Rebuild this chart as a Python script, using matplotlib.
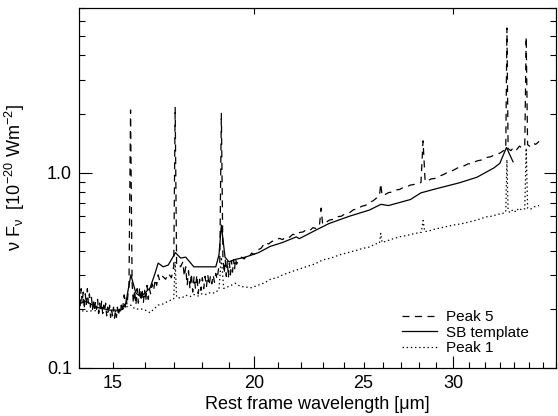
import matplotlib
matplotlib.use("Agg")
import matplotlib.pyplot as plt
from matplotlib.ticker import FixedLocator, FuncFormatter, NullFormatter, NullLocator

plt.rcParams['font.family'] = ['Liberation Sans', 'DejaVu Sans']
plt.rcParams['mathtext.default'] = 'regular'
plt.rcParams['lines.scale_dashes'] = False

# Peak 5 spectrum (rest wavelength in um, nu F_nu)
peak5_wl = [14.00, 14.03, 14.06, 14.09, 14.12, 14.15, 14.18, 14.21, 14.24, 14.27,
            14.30, 14.33, 14.36, 14.39, 14.42, 14.45, 14.48, 14.51, 14.54, 14.57,
            14.60, 14.63, 14.66, 14.69, 14.72, 14.75, 14.78, 14.81, 14.84, 14.87,
            14.90, 14.93, 14.96, 14.99, 15.02, 15.05, 15.08, 15.11, 15.14, 15.17,
            15.20, 15.23, 15.26, 15.29, 15.32, 15.35, 15.38, 15.41, 15.44, 15.47,
            15.50, 15.55, 15.60, 15.64, 15.68, 15.72, 15.76, 15.80, 15.84, 15.88,
            15.92, 15.96, 16.00, 16.04, 16.08, 16.12, 16.16, 16.20, 16.25, 16.30,
            16.35, 16.40, 16.45, 16.50, 16.60, 16.70, 16.80, 16.90, 16.98, 17.03,
            17.08, 17.15, 17.22, 17.30, 17.35, 17.40, 17.45, 17.50, 17.55, 17.60,
            17.65, 17.70, 17.75, 17.80, 17.85, 17.90, 17.95, 18.00, 18.05, 18.10,
            18.15, 18.20, 18.25, 18.30, 18.35, 18.40, 18.45, 18.50, 18.55, 18.60,
            18.65, 18.71, 18.77, 18.82, 18.86, 18.90, 18.94, 18.98, 19.02, 19.06,
            19.10, 19.14, 19.18, 19.22, 19.26, 19.30, 19.40, 19.50, 19.60, 19.70,
            19.80, 19.90, 20.00, 20.15, 20.30, 20.45, 20.60, 20.75, 20.90, 21.05,
            21.20, 21.35, 21.50, 21.65, 21.80, 21.95, 22.10, 22.25, 22.40, 22.55,
            22.70, 22.85, 22.93, 23.00, 23.15, 23.30, 23.50, 23.70, 23.90, 24.10,
            24.30, 24.50, 24.70, 24.90, 25.10, 25.30, 25.50, 25.70, 25.82, 25.89,
            25.96, 26.10, 26.30, 26.50, 26.70, 26.90, 27.10, 27.30, 27.50, 27.70,
            27.90, 28.10, 28.22, 28.34, 28.50, 28.70, 28.90, 29.10, 29.40, 29.70,
            30.00, 30.30, 30.60, 30.90, 31.20, 31.50, 31.80, 32.10, 32.40, 32.70,
            33.00, 33.25, 33.40, 33.48, 33.56, 33.75, 33.95, 34.15, 34.35, 34.55,
            34.72, 34.82, 34.92, 35.10, 35.30, 35.50, 35.75]
peak5_flux = [0.235, 0.205, 0.255, 0.215, 0.245, 0.200, 0.240, 0.210, 0.255, 0.215,
              0.240, 0.205, 0.230, 0.200, 0.225, 0.195, 0.220, 0.200, 0.225, 0.190,
              0.215, 0.195, 0.220, 0.190, 0.210, 0.195, 0.215, 0.185, 0.205, 0.190,
              0.210, 0.182, 0.200, 0.185, 0.205, 0.180, 0.198, 0.182, 0.205, 0.185,
              0.200, 0.190, 0.210, 0.195, 0.215, 0.237, 0.205, 0.230, 0.210, 0.240,
              0.260, 2.100, 0.270, 0.215, 0.250, 0.210, 0.255, 0.215, 0.260, 0.220,
              0.255, 0.215, 0.250, 0.220, 0.265, 0.225, 0.255, 0.240, 0.270, 0.250,
              0.285, 0.265, 0.300, 0.280, 0.295, 0.285, 0.305, 0.290, 0.330, 2.180,
              0.340, 0.345, 0.330, 0.350, 0.295, 0.330, 0.265, 0.315, 0.255, 0.305,
              0.245, 0.295, 0.255, 0.300, 0.240, 0.285, 0.250, 0.290, 0.255, 0.295,
              0.260, 0.300, 0.265, 0.295, 0.270, 0.300, 0.275, 0.305, 0.285, 0.320,
              0.340, 2.030, 0.370, 0.305, 0.360, 0.295, 0.355, 0.290, 0.345, 0.300,
              0.355, 0.310, 0.360, 0.320, 0.365, 0.340, 0.360, 0.370, 0.362, 0.376,
              0.370, 0.388, 0.382, 0.402, 0.412, 0.440, 0.432, 0.446, 0.448, 0.462,
              0.455, 0.472, 0.468, 0.485, 0.478, 0.495, 0.498, 0.512, 0.506, 0.524,
              0.518, 0.538, 0.660, 0.545, 0.556, 0.572, 0.578, 0.596, 0.600, 0.620,
              0.626, 0.648, 0.652, 0.674, 0.682, 0.706, 0.720, 0.748, 0.760, 0.880,
              0.765, 0.772, 0.792, 0.798, 0.818, 0.822, 0.842, 0.848, 0.866, 0.872,
              0.888, 0.892, 1.460, 0.905, 0.912, 0.932, 0.936, 0.958, 0.978, 1.010,
              1.030, 1.062, 1.078, 1.110, 1.122, 1.152, 1.165, 1.198, 1.210, 1.245,
              1.262, 1.300, 1.310, 5.530, 1.330, 1.300, 1.355, 1.315, 1.372, 1.335,
              1.380, 4.980, 1.395, 1.365, 1.420, 1.400, 1.450]

# Starburst template
sb_wl = [13.97, 14.20, 14.50, 14.90, 15.25, 15.40, 15.56, 15.72, 15.88, 16.18,
         16.35, 16.45, 16.62, 16.79, 17.04, 17.22, 17.40, 17.69, 17.98, 18.50,
         18.62, 18.71, 18.85, 19.00, 19.25, 19.65, 20.18, 20.67, 21.20, 21.80,
         21.93, 22.70, 23.30, 24.30, 25.30, 25.90, 26.30, 27.50, 28.10, 29.00,
         30.40, 31.50, 32.60, 33.00, 33.45, 33.65, 33.90]
sb_flux = [0.212, 0.220, 0.205, 0.198, 0.198, 0.215, 0.300, 0.242, 0.232, 0.257,
           0.307, 0.345, 0.330, 0.337, 0.390, 0.366, 0.370, 0.330, 0.330, 0.330,
           0.380, 0.540, 0.370, 0.350, 0.360, 0.370, 0.390, 0.420, 0.440, 0.470,
           0.460, 0.510, 0.550, 0.600, 0.645, 0.690, 0.680, 0.730, 0.790, 0.830,
           0.890, 0.950, 1.060, 1.120, 1.350, 1.250, 1.140]

# Peak 1 spectrum
peak1_wl = [13.97, 14.20, 14.45, 14.70, 14.94, 15.20, 15.40, 15.56, 15.70, 15.88,
            16.05, 16.18, 16.30, 16.45, 16.62, 16.79, 16.98, 17.03, 17.08, 17.25,
            17.40, 17.55, 17.69, 17.85, 17.98, 18.15, 18.30, 18.45, 18.62, 18.71,
            18.80, 19.00, 19.25, 19.45, 19.65, 19.90, 20.18, 20.45, 20.70, 20.95,
            21.20, 21.60, 21.95, 22.30, 22.65, 23.00, 23.40, 23.80, 24.20, 24.60,
            24.95, 25.30, 25.60, 25.82, 25.89, 25.96, 26.10, 26.50, 26.90, 27.30,
            27.80, 28.12, 28.22, 28.32, 28.60, 28.90, 29.40, 30.00, 30.50, 31.00,
            31.50, 32.10, 32.50, 32.80, 33.20, 33.40, 33.48, 33.56, 33.70, 33.90,
            34.10, 34.30, 34.50, 34.72, 34.82, 34.92, 35.10, 35.40, 35.75]
peak1_flux = [0.198, 0.195, 0.197, 0.192, 0.194, 0.196, 0.205, 0.210, 0.200, 0.201,
              0.197, 0.192, 0.200, 0.210, 0.213, 0.220, 0.226, 0.350, 0.230, 0.228,
              0.236, 0.232, 0.238, 0.234, 0.240, 0.238, 0.244, 0.242, 0.252, 0.370,
              0.256, 0.262, 0.272, 0.262, 0.260, 0.258, 0.266, 0.274, 0.286, 0.290,
              0.300, 0.312, 0.322, 0.332, 0.342, 0.358, 0.366, 0.380, 0.390, 0.400,
              0.410, 0.417, 0.432, 0.436, 0.490, 0.440, 0.444, 0.458, 0.470, 0.478,
              0.490, 0.496, 0.570, 0.500, 0.505, 0.515, 0.526, 0.540, 0.548, 0.560,
              0.574, 0.595, 0.600, 0.612, 0.620, 0.630, 1.170, 0.640, 0.625, 0.650,
              0.630, 0.660, 0.645, 0.655, 1.340, 0.660, 0.650, 0.670, 0.680]

fig = plt.figure(figsize=(5.58, 4.16), dpi=100)
ax = fig.add_axes([0.1416, 0.1154, 0.8548, 0.8654])

ax.plot(peak5_wl, peak5_flux, color='black', lw=0.9, dashes=(5, 4), label='Peak 5')
ax.plot(sb_wl, sb_flux, color='black', lw=0.9, label='SB template')
ax.plot(peak1_wl, peak1_flux, color='black', lw=0.9, dashes=(1, 2), label='Peak 1')

ax.set_xscale('log')
ax.set_yscale('log')
ax.set_xlim(14, 37)
ax.set_ylim(0.1, 7)

# x ticks: long at 20, 30; short every micron, labelled at 15 and 25
ax.xaxis.set_major_locator(FixedLocator([20, 30]))
ax.xaxis.set_major_formatter(FuncFormatter(lambda v, p: '%d' % round(v)))
minor_x = [v for v in range(14, 38) if v not in (20, 30)]
ax.xaxis.set_minor_locator(FixedLocator(minor_x))
ax.xaxis.set_minor_formatter(FuncFormatter(
    lambda v, p: '%d' % round(v) if round(v) in (15, 25) else ''))

ax.yaxis.set_major_locator(FixedLocator([0.1, 1.0]))
ax.yaxis.set_major_formatter(FuncFormatter(lambda v, p: '%.1f' % v))
ax.yaxis.set_minor_locator(FixedLocator([0.2, 0.3, 0.4, 0.5, 0.6, 0.7, 0.8, 0.9,
                                         2, 3, 4, 5, 6, 7]))
ax.yaxis.set_minor_formatter(NullFormatter())

ax.tick_params(axis='both', which='both', direction='in', labelsize=13, pad=5,
               top=False, right=True)
ax.tick_params(axis='both', which='major', length=9, width=0.8)
ax.tick_params(axis='both', which='minor', length=4.5, width=0.8)

# top axis only carries short ticks at 20 and 30
top = ax.twiny()
top.set_xscale('log')
top.set_xlim(ax.get_xlim())
top.xaxis.set_major_locator(FixedLocator([20, 30]))
top.xaxis.set_minor_locator(NullLocator())
top.tick_params(axis='x', direction='in', length=4, width=0.8, labeltop=False)

for a in (ax, top):
    for s in a.spines.values():
        s.set_linewidth(0.8)

ax.set_xlabel('Rest frame wavelength [μm]', fontsize=13)
ax.set_ylabel('ν F$_{ν}$  [10$^{-20}$ Wm$^{-2}$]', fontsize=13)
ax.xaxis.set_label_coords(0.5, -0.077)
ax.yaxis.set_label_coords(-0.109, 0.53)

ax.legend(loc='lower left', bbox_to_anchor=(0.677, 0.036), frameon=False,
          fontsize=11, handlelength=2.3, handletextpad=0.6, labelspacing=0.1,
          borderpad=0, borderaxespad=0)

fig.savefig('out.png', dpi=100)
